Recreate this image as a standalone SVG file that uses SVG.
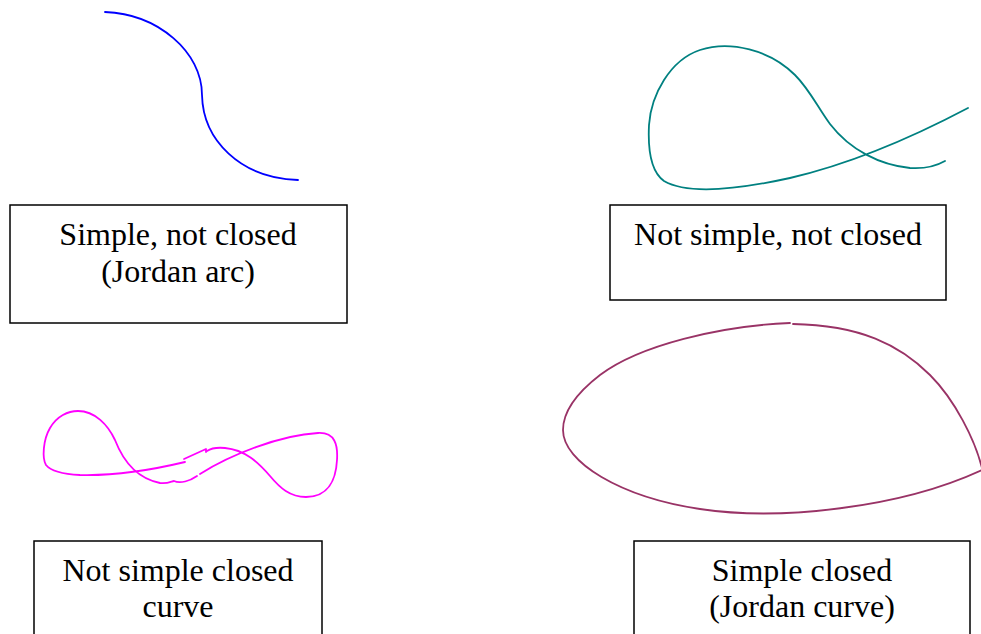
<svg xmlns="http://www.w3.org/2000/svg" width="981" height="634" viewBox="0 0 981 634">
<style>
.box{fill:#fff;stroke:#000;stroke-width:1.5}
.lbl{font-family:"Liberation Serif","Times New Roman",serif;font-size:32px;fill:#000;text-anchor:middle}
.crv{fill:none;stroke-width:1.8;stroke-linecap:round;stroke-linejoin:round}
</style>
<rect width="981" height="634" fill="#fff"/>
<g id="curves">
<path id="arc" class="crv" stroke="#0000ff" d="M105,12 C158,14 202,52 202,95 C203,140 240,178 298,180"/>
<path id="notsimple" class="crv" stroke="#008080" d="M968,108 C915,136 850,164 790,178 C740,189 688,195 664,181 C650,171 648,145 649,125 C651,95 670,60 700,50 C730,40 770,50 795,75 C810,90 818,108 830,124 C850,150 880,165 910,168 C925,169 938,165 945,161"/>
<g id="figure8" class="crv" stroke="#ff00ff">
<path d="M185,462 C160,468 120,476 80,475 C60,474 50,470 46,465 C42,458 43,440 50,428 C57,416 68,411 78,411 C95,411 108,425 115,440 C122,458 135,478 160,483 C168,484 172,481 174,481 C180,484 190,481 197,476"/>
<path d="M200,474 C230,455 280,435 318,433 C335,432 338,445 337,460 C336,480 328,497 306,497 C290,497 280,488 270,476 C258,462 245,450 225,448 C215,447 210,449 207,451"/>
<path d="M184,459 L206,449 L206,452"/>
</g>
<path id="jordan" class="crv" stroke="#993366" d="M790,323 C720,326 640,345 600,375 C578,392 563,410 563,430 C563,462 620,497 700,509 C780,521 900,508 982,470 L982,468 C975,440 955,400 930,375 C900,345 860,325 793,324"/>
</g>
<g id="box1"><rect class="box" x="10" y="205" width="337" height="118"/><text class="lbl" x="178" y="245">Simple, not closed</text><text class="lbl" x="178" y="282">(Jordan arc)</text></g>
<g id="box2"><rect class="box" x="610" y="205" width="336" height="95"/><text class="lbl" x="778" y="245">Not simple, not closed</text></g>
<g id="box3"><rect class="box" x="34" y="541" width="288" height="110"/><text class="lbl" x="178" y="581">Not simple closed</text><text class="lbl" x="178" y="617">curve</text></g>
<g id="box4"><rect class="box" x="634" y="541" width="336" height="110"/><text class="lbl" x="802" y="581">Simple closed</text><text class="lbl" x="802" y="617">(Jordan curve)</text></g>
</svg>
